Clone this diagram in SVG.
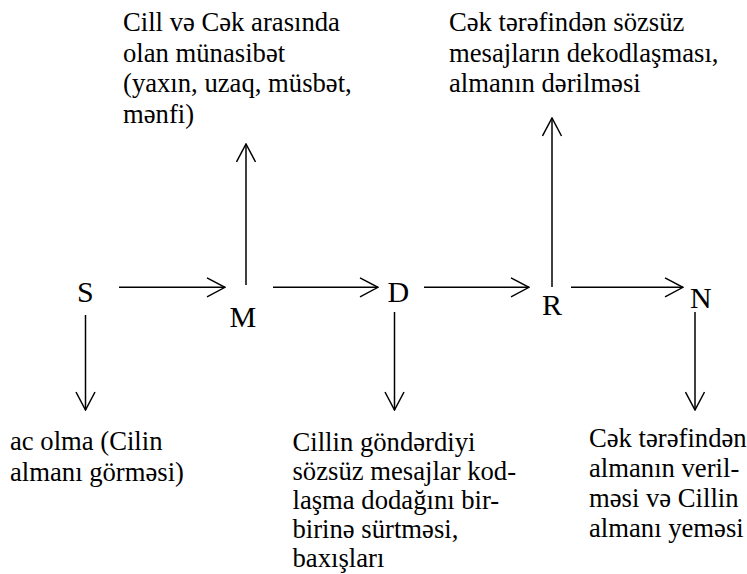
<svg xmlns="http://www.w3.org/2000/svg" width="747" height="574" viewBox="0 0 747 574">
<style>
text{font-family:"Liberation Serif","Times New Roman",serif;fill:#000}
.t{font-size:26.67px}
.n{font-size:30px}
.c line{stroke:#000;stroke-width:1.5}
</style>
<defs>
<marker id="a" markerUnits="userSpaceOnUse" viewBox="0 0 20 21" markerWidth="20" markerHeight="21" refX="19" refY="10.5" orient="auto">
<path d="M1,1 L19,10.5 L1,20" fill="none" stroke="#000" stroke-width="1.5"/>
</marker>
</defs>
<rect width="747" height="574" fill="#fff"/>
<g class="c" id="connectors">
<line x1="119" y1="287.3" x2="225" y2="287.3" marker-end="url(#a)"/>
<line x1="273" y1="287.3" x2="378" y2="287.3" marker-end="url(#a)"/>
<line x1="424" y1="287.3" x2="529" y2="287.3" marker-end="url(#a)"/>
<line x1="571" y1="287.3" x2="683" y2="287.3" marker-end="url(#a)"/>
<line x1="246" y1="285" x2="246" y2="144" marker-end="url(#a)"/>
<line x1="552" y1="287" x2="552" y2="118" marker-end="url(#a)"/>
<line x1="85.5" y1="315" x2="85.5" y2="410" marker-end="url(#a)"/>
<line x1="394.5" y1="312" x2="394.5" y2="410" marker-end="url(#a)"/>
<line x1="695" y1="312" x2="695" y2="410" marker-end="url(#a)"/>
</g>
<g id="S"><text class="n" x="77" y="302">S</text></g>
<g id="M"><text class="n" x="229.5" y="327">M</text></g>
<g id="D"><text class="n" x="387.5" y="301.5">D</text></g>
<g id="R"><text class="n" x="542" y="315">R</text></g>
<g id="N"><text class="n" x="690" y="308">N</text></g>
<g id="M-note"><text class="t" x="123" y="31"><tspan x="123">Cill və Cək arasında</tspan><tspan x="123" dy="30.7">olan münasibət</tspan><tspan x="123" dy="30.7">(yaxın, uzaq, müsbət,</tspan><tspan x="123" dy="30.7">mənfi)</tspan></text></g>
<g id="R-note"><text class="t" x="449" y="31"><tspan x="449">Cək tərəfindən sözsüz</tspan><tspan x="449" dy="30.7">mesajların dekodlaşması,</tspan><tspan x="449" dy="30.7">almanın dərilməsi</tspan></text></g>
<g id="S-note"><text class="t" x="10" y="450"><tspan x="10">ac olma (Cilin</tspan><tspan x="10" dy="31">almanı görməsi)</tspan></text></g>
<g id="D-note"><text class="t" x="292.5" y="450.5"><tspan x="292.5">Cillin göndərdiyi</tspan><tspan x="292.5" dy="29">sözsüz mesajlar kod-</tspan><tspan x="292.5" dy="29">laşma dodağını bir-</tspan><tspan x="292.5" dy="29">birinə sürtməsi,</tspan><tspan x="292.5" dy="29">baxışları</tspan></text></g>
<g id="N-note"><text class="t" x="589" y="447.3"><tspan x="589">Cək tərəfindən</tspan><tspan x="589" dy="29.8">almanın veril-</tspan><tspan x="589" dy="29.8">məsi və Cillin</tspan><tspan x="589" dy="29.8">almanı yeməsi</tspan></text></g>
</svg>
